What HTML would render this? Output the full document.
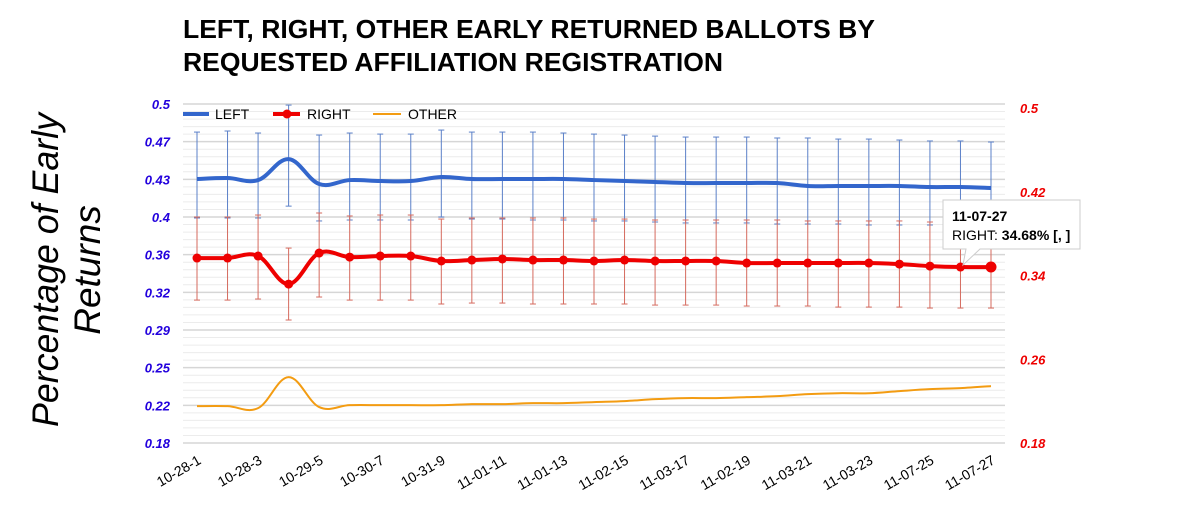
<!DOCTYPE html>
<html><head><meta charset="utf-8"><style>
html,body{margin:0;padding:0;background:#fff;}
svg{display:block;font-family:"Liberation Sans",Arial,sans-serif;}
</style></head><body>
<svg id="chart" width="1200" height="510" viewBox="0 0 1200 510">
<text x="183" y="38" font-size="26" font-weight="bold" textLength="692" lengthAdjust="spacingAndGlyphs">LEFT, RIGHT, OTHER EARLY RETURNED BALLOTS BY</text>
<text x="183" y="71" font-size="26" font-weight="bold" textLength="540" lengthAdjust="spacingAndGlyphs">REQUESTED AFFILIATION REGISTRATION</text>
<g transform="translate(58,270) rotate(-90)">
<text x="0" y="0" font-size="37" font-style="italic" text-anchor="middle" textLength="314" lengthAdjust="spacingAndGlyphs">Percentage of Early</text>
<text x="0" y="42" font-size="37" font-style="italic" text-anchor="middle">Returns</text>
</g>
<g id="grid"></g>
<g id="axes"></g>
<g id="errs"></g>
<g id="lines"></g>
<g id="legend">
<line x1="183" y1="114" x2="209" y2="114" stroke="#3366cc" stroke-width="4"/>
<text x="215" y="119" font-size="14">LEFT</text>
<line x1="273" y1="114" x2="300" y2="114" stroke="#e00" stroke-width="4"/>
<circle cx="287" cy="114" r="4.5" fill="#e00"/>
<text x="307" y="119" font-size="14">RIGHT</text>
<line x1="373" y1="114" x2="401" y2="114" stroke="#f39c12" stroke-width="2"/>
<text x="408" y="119" font-size="14">OTHER</text>
</g>
<g id="tooltip">
<path d="M943,200 H1080 V249 H980 L963,265 L966,249 H943 Z" fill="#fff" stroke="#ccc" stroke-width="1"/>
<text x="952" y="221" font-size="14" font-weight="bold">11-07-27</text>
<text x="952" y="240" font-size="14">RIGHT: <tspan font-weight="bold">34.68% [, ]</tspan></text>
</g>
</svg>
<script>
const categories=["10-28-1","10-28-2","10-28-3","10-29-4","10-29-5","10-30-6","10-30-7","10-31-8","10-31-9","11-01-10","11-01-11","11-01-12","11-01-13","11-02-14","11-02-15","11-03-16","11-03-17","11-02-18","11-02-19","11-03-20","11-03-21","11-03-22","11-03-23","11-07-24","11-07-25","11-07-26","11-07-27"];
const leftVals=[0.4292,0.4301,0.4282,0.4480,0.4245,0.4282,0.4273,0.4273,0.4311,0.4292,0.4292,0.4292,0.4292,0.4282,0.4273,0.4264,0.4254,0.4254,0.4254,0.4254,0.4226,0.4226,0.4226,0.4226,0.4216,0.4216,0.4207];
const leftLow=[0.3924,0.3924,0.3924,0.4036,0.3896,0.3905,0.3905,0.3905,0.3933,0.3914,0.3914,0.3905,0.3905,0.3896,0.3896,0.3886,0.3877,0.3877,0.3877,0.3867,0.3867,0.3867,0.3858,0.3858,0.3858,0.3858,0.3849];
const leftHigh=[0.4735,0.4745,0.4726,0.4990,0.4707,0.4726,0.4716,0.4716,0.4754,0.4735,0.4735,0.4735,0.4726,0.4716,0.4707,0.4697,0.4688,0.4688,0.4688,0.4679,0.4679,0.4669,0.4669,0.4660,0.4651,0.4651,0.4641];
const rightVals=[0.3546,0.3546,0.3565,0.3300,0.3593,0.3555,0.3565,0.3565,0.3518,0.3527,0.3537,0.3527,0.3527,0.3518,0.3527,0.3518,0.3518,0.3518,0.3499,0.3499,0.3499,0.3499,0.3499,0.3489,0.3470,0.3461,0.3461];
const rightLow=[0.3149,0.3149,0.3159,0.2961,0.3178,0.3149,0.3149,0.3149,0.3112,0.3121,0.3121,0.3112,0.3112,0.3112,0.3112,0.3102,0.3102,0.3102,0.3093,0.3093,0.3093,0.3083,0.3083,0.3083,0.3074,0.3074,0.3074];
const rightHigh=[0.3933,0.3933,0.3952,0.3640,0.3971,0.3943,0.3952,0.3952,0.3914,0.3924,0.3924,0.3924,0.3924,0.3914,0.3914,0.3905,0.3905,0.3905,0.3905,0.3905,0.3896,0.3896,0.3896,0.3896,0.3886,0.3886,0.3886];
const otherVals=[0.2148,0.2148,0.2129,0.2422,0.2139,0.2157,0.2157,0.2157,0.2157,0.2167,0.2167,0.2176,0.2176,0.2186,0.2195,0.2214,0.2224,0.2224,0.2233,0.2242,0.2261,0.2270,0.2270,0.2290,0.2308,0.2318,0.2337];
const leftTicks=["0.5","0.47","0.43","0.4","0.36","0.32","0.29","0.25","0.22","0.18"];
const rightTicks=["0.5","0.42","0.34","0.26","0.18"];
const yMin=0.18,yMax=0.5;
const X0=197,X1=991,Y0=104,Y1=443;
const xs=i=>X0+(X1-X0)*i/(categories.length-1);
const ys=v=>Y1-(v-yMin)/(yMax-yMin)*(Y1-Y0);
const NS="http://www.w3.org/2000/svg";
function mk(tag,attrs,parent){const e=document.createElementNS(NS,tag);for(const k in attrs)e.setAttribute(k,attrs[k]);document.getElementById(parent).appendChild(e);return e;}
for(let k=0;k<=45;k++){const y=Y0+(Y1-Y0)*k/45;const major=k%5===0;
const g=mk('line',{x1:183,x2:1005,y1:y,y2:y,stroke:major?'#d6d6d6':'#ececec','stroke-width':major?1.5:1},'grid');

}
leftTicks.forEach((t,i)=>{const y=Y0+(Y1-Y0)*i/(leftTicks.length-1);
const e=mk('text',{x:170,y:y+5,'font-size':13,'font-style':'italic','font-weight':'bold',fill:'#2200dd','text-anchor':'end'},'axes');e.textContent=t;

});
rightTicks.forEach((t,i)=>{const y=Y0+4+(Y1-Y0-4)*i/(rightTicks.length-1);
const e=mk('text',{x:1020,y:y+5,'font-size':13,'font-style':'italic','font-weight':'bold',fill:'#e00'},'axes');e.textContent=t;

});
categories.forEach((c,i)=>{if(i%2)return;const x=xs(i);
const e=mk('text',{x:x+5,y:463,'font-size':14,'text-anchor':'end',transform:`rotate(-30 ${x+5} 463)`},'axes');e.textContent=c;

});
function errBars(lo,hi,col,name){lo.forEach((l,i)=>{const x=xs(i);const g=mk('g',{stroke:col,'stroke-width':1},'errs');


const a=ys(hi[i]),b=ys(l);
[[x,a,x,b],[x-3,a,x+3,a],[x-3,b,x+3,b]].forEach(p=>{const ln=document.createElementNS(NS,'line');ln.setAttribute('x1',p[0]);ln.setAttribute('y1',p[1]);ln.setAttribute('x2',p[2]);ln.setAttribute('y2',p[3]);g.appendChild(ln);});});}
errBars(leftLow,leftHigh,'#5b80c8','left-error-bar');
errBars(rightLow,rightHigh,'#d56a5e','right-error-bar');
function smooth(vals){const p=vals.map((v,i)=>[xs(i),ys(v)]);let d=`M${p[0][0]},${p[0][1]}`;
for(let i=0;i<p.length-1;i++){const p0=p[i-1]||p[i],p1=p[i],p2=p[i+1],p3=p[i+2]||p2;const t=0.18;
d+=` C${p1[0]+(p2[0]-p0[0])*t},${p1[1]+(p2[1]-p0[1])*t} ${p2[0]-(p3[0]-p1[0])*t},${p2[1]-(p3[1]-p1[1])*t} ${p2[0]},${p2[1]}`;}return d;}
const lo=mk('path',{d:smooth(otherVals),fill:'none',stroke:'#f39c12','stroke-width':2},'lines');


const ll=mk('path',{d:smooth(leftVals),fill:'none',stroke:'#3366cc','stroke-width':4},'lines');


const rl=mk('path',{d:smooth(rightVals),fill:'none',stroke:'#e00','stroke-width':4},'lines');


rightVals.forEach((v,i)=>{const c=mk('circle',{cx:xs(i),cy:ys(v),r:i===rightVals.length-1?5.5:4.5,fill:'#e00'},'lines');

});
</script>
</body></html>
